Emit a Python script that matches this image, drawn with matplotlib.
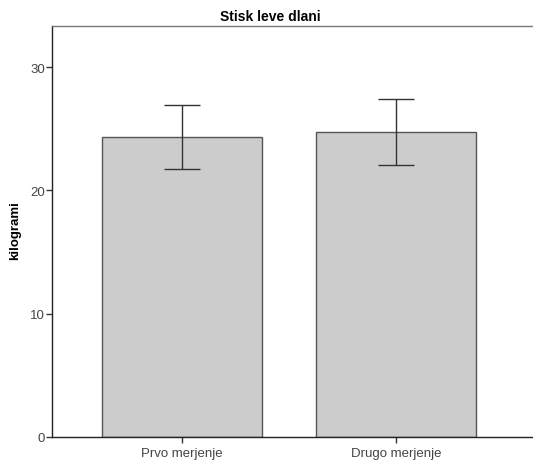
import matplotlib
matplotlib.use("Agg")
import matplotlib.pyplot as plt
import numpy as np

categories = ["Prvo merjenje", "Drugo merjenje"]
means = [24.35, 24.71]
err_low = [21.74, 22.03]
err_high = [26.93, 27.41]
yticks = [0, 10, 20, 30]

plt.rcParams['font.family'] = ['Liberation Sans', 'DejaVu Sans']

fig = plt.figure(figsize=(5.33, 4.64), dpi=100)
ax = fig.add_axes([52/533, 26/464, 1 - 52/533, (438-27)/464])

x = np.arange(len(categories))
ax.bar(x, means, width=0.75, color="#cccccc", edgecolor="#555555", linewidth=1.0, zorder=2)
yerr = np.array([np.array(means) - np.array(err_low), np.array(err_high) - np.array(means)])
ax.errorbar(x, means, yerr=yerr, fmt="none", ecolor="#333333", elinewidth=1.0,
            capsize=13, capthick=1.0, zorder=3)

ax.set_xlim(-0.607, 1.64)
ax.set_ylim(0, 33.33)
ax.set_xticks(x)
ax.set_xticklabels(categories, fontsize=9.5, color="#444444")
ax.set_yticks(yticks)
ax.set_yticklabels([str(t) for t in yticks], fontsize=9.5, color="#444444")
ax.tick_params(axis="y", length=4, width=1, color="#333333", pad=1)
ax.tick_params(axis="x", length=4, width=1, color="#333333", pad=3)

for s in ["left", "bottom", "top"]:
    ax.spines[s].set_color("#222222")
    ax.spines[s].set_linewidth(1.0)
ax.spines["top"].set_color("#777777")
ax.spines["right"].set_visible(False)

fig.text(15/533, 1 - 231/464, "kilogrami", rotation=90, ha="center", va="center",
         fontsize=9.5, fontweight="bold")
fig.text(270/533, 1 - 17/464, "Stisk leve dlani", ha="center", va="center",
         fontsize=10, fontweight="bold")

fig.savefig("out.png", dpi=100)
